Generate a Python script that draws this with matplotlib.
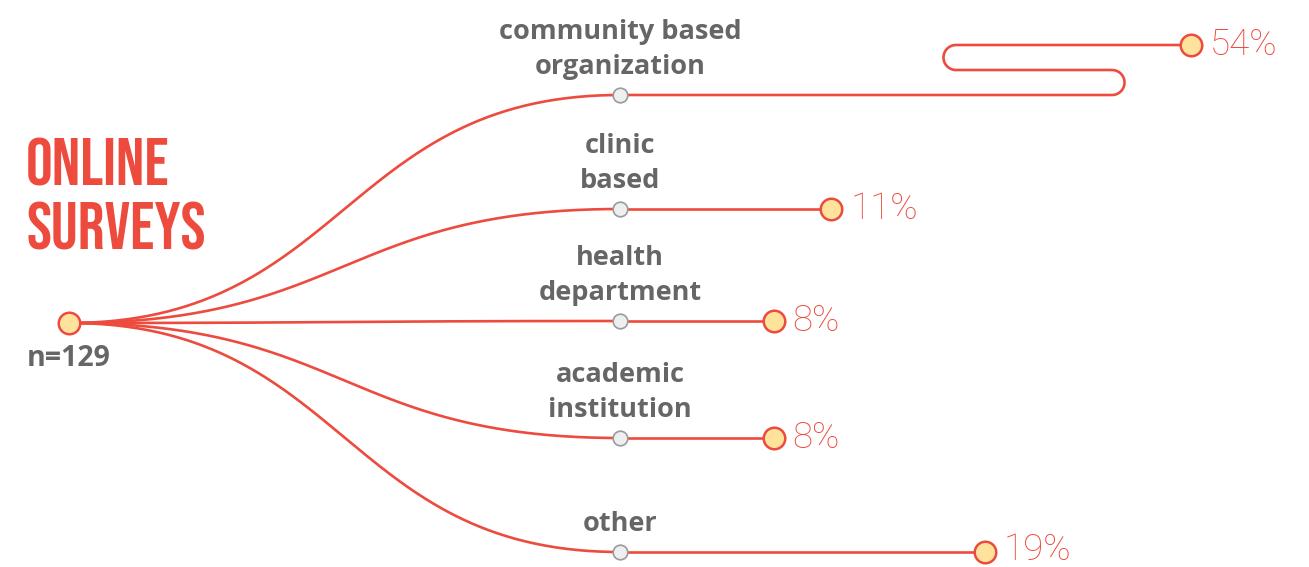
import numpy as np
import matplotlib
matplotlib.use("Agg")
import matplotlib.pyplot as plt
from matplotlib import font_manager

# ---- data ----
categories = ["community based\norganization", "clinic\nbased", "health\ndepartment",
              "academic\ninstitution", "other"]
percents = [54, 11, 8, 8, 19]
pct_labels = ["54%", "11%", "8%", "8%", "19%"]
title_lines = ["ONLINE", "SURVEYS"]
n_label = "n=129"

# ---- style / layout ----
RED = "#EC4B3E"
YELLOW = "#FFE39C"
GRAY_TXT = "#666666"
W, H = 1309, 567
origin = (69, 323)
node_x = 620
node_ys = [95, 209, 321, 438, 552]
px_per_pct = 19.2
fold_right, fold_left, fold_end = 1112, 956, 1191
fold_r = 12.5

names = {f.name for f in font_manager.fontManager.ttflist}
def pick(cands):
    for c in cands:
        if c in names:
            return c
    return "DejaVu Sans"
title_font = pick(["Bebas Neue", "Oswald", "Roboto Condensed", "Liberation Sans Narrow", "DejaVu Sans"])
label_font = pick(["Open Sans", "Noto Sans", "DejaVu Sans"])
pct_font = pick(["Roboto", "Lato", "DejaVu Sans"])

fig = plt.figure(figsize=(W / 100, H / 100), dpi=100)
ax = fig.add_axes([0, 0, 1, 1])
ax.set_xlim(0, W)
ax.set_ylim(H, 0)
ax.axis("off")

lw = 1.9

def link(p0, p1, n=200):
    t = np.linspace(0, 1, n)
    mx = (p0[0] + p1[0]) / 2
    P = np.array([p0, (mx, p0[1]), (mx, p1[1]), p1], dtype=float)
    b = ((1 - t) ** 3)[:, None] * P[0] + (3 * t * (1 - t) ** 2)[:, None] * P[1] \
        + (3 * t ** 2 * (1 - t))[:, None] * P[2] + (t ** 3)[:, None] * P[3]
    return b[:, 0], b[:, 1]

for i, (cat, pct, lab, y) in enumerate(zip(categories, percents, pct_labels, node_ys)):
    xs, ys = link(origin, (node_x, y))
    ax.plot(xs, ys, color=RED, lw=lw, solid_capstyle="round", zorder=2)
    if pct > 40:
        # folded path
        seg_x = [node_x, fold_right]
        seg_y = [y, y]
        cx, cy = fold_right, y - fold_r
        ang = np.linspace(np.pi / 2, -np.pi / 2, 60)
        seg_x += list(cx + fold_r * np.cos(ang))
        seg_y += list(cy + fold_r * np.sin(ang))
        y2 = y - 2 * fold_r
        seg_x += [fold_left]
        seg_y += [y2]
        cx2, cy2 = fold_left, y2 - fold_r
        ang2 = np.linspace(np.pi / 2, 3 * np.pi / 2, 60)
        seg_x += list(cx2 + fold_r * np.cos(ang2))
        seg_y += list(cy2 + fold_r * np.sin(ang2))
        y3 = y2 - 2 * fold_r
        end_x, end_y = fold_end, y3
        seg_x += [end_x]
        seg_y += [end_y]
        ax.plot(seg_x, seg_y, color=RED, lw=lw, zorder=2, solid_joinstyle="round")
    else:
        end_x, end_y = node_x + pct * px_per_pct, y
        ax.plot([node_x, end_x], [y, y], color=RED, lw=lw, zorder=2)
    ax.plot([node_x], [y], "o", ms=10.5, mfc="#EEF0EF", mec="#9A9A9A", mew=1.2, zorder=4)
    ax.plot([end_x], [end_y], "o", ms=15.5, mfc=YELLOW, mec=RED, mew=1.8, zorder=4)
    ax.text(end_x + 19, min(end_y, 550), lab, color=RED, fontsize=26.5, family=pct_font,
            fontweight="light", ha="left", va="center", zorder=5)
    ax.text(node_x, y - 15, cat, color=GRAY_TXT, fontsize=19.5, family=label_font,
            fontweight="bold", ha="center", va="bottom", linespacing=1.46, zorder=5)

ax.plot([origin[0]], [origin[1]], "o", ms=15.5, mfc=YELLOW, mec=RED, mew=1.8, zorder=5)
ax.text(origin[0], 358, n_label, color=GRAY_TXT, fontsize=20.5, family=label_font,
        fontweight="bold", ha="center", va="center", zorder=5)

for line, yb in zip(title_lines, [185, 250]):
    ax.text(26, yb, line, color=RED, fontsize=48, family=title_font, fontweight="bold",
            fontstretch="condensed", ha="left", va="baseline", zorder=5)

fig.savefig("out.png", dpi=100)
